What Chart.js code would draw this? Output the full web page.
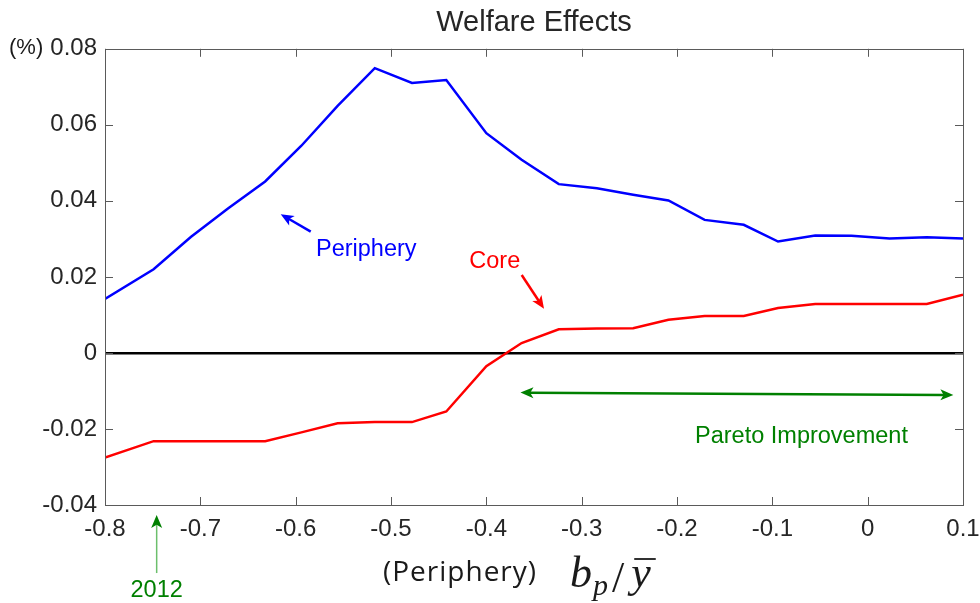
<!DOCTYPE html>
<html>
<head>
<meta charset="utf-8">
<script src="https://cdn.jsdelivr.net/npm/chart.js@4.4.0/dist/chart.umd.min.js"></script>
<style>
  html, body { margin: 0; padding: 0; background: #ffffff; }
  #wrap { width: 980px; height: 603px; }
</style>
</head>
<body>
<div id="wrap"><canvas id="chart"></canvas></div>
<script>
// welfare.js - welfare effects vs periphery debt ratio

// model grid (b_p / y-bar)
const bpRatio = [-0.8, -0.749, -0.71, -0.671, -0.632, -0.594, -0.556, -0.517, -0.478, -0.442,
    -0.40, -0.363, -0.324, -0.284, -0.246, -0.209, -0.171, -0.130, -0.094, -0.055,
    -0.017, 0.023, 0.062, 0.1];

// welfare effects (%)
const peripheryWelfare = [0.0142, 0.022, 0.0305, 0.038, 0.0451, 0.0545, 0.065, 0.0749, 0.071, 0.0718,
    0.0578, 0.0508, 0.0444, 0.0433, 0.0416, 0.0401, 0.035, 0.0337, 0.0293, 0.0309,
    0.0308, 0.0301, 0.0304, 0.0301];
const coreWelfare = [-0.0275, -0.0232, -0.0232, -0.0232, -0.0232, -0.0209, -0.0185, -0.0182, -0.0182, -0.0154,
    -0.0035, 0.0026, 0.0062, 0.0064, 0.0065, 0.0087, 0.0097, 0.0097, 0.0118, 0.0129,
    0.0129, 0.0129, 0.0129, 0.0153];

const xTicks = [-0.8, -0.7, -0.6, -0.5, -0.4, -0.3, -0.2, -0.1, 0, 0.1];
const yTicks = [-0.04, -0.02, 0, 0.02, 0.04, 0.06, 0.08];

// annotations, in data units
const arrowNotes = [
    { from: [-0.5842, 0.0319], to: [-0.6157, 0.0365], color: "#0000ff", width: 2.5 },
    { from: [-0.3629, 0.0205], to: [-0.3395, 0.0116], color: "#ff0000", width: 2.5 },
    { from: [-0.3642, -0.01044], to: [0.0899, -0.01105], color: "#008000", width: 2.5, both: true },
    { from: [-0.7458, -0.0579], to: [-0.7458, -0.04263], color: "#008000", shaft: "#6cbf6c", width: 1.5 }
];
const textNotes = [
    { text: "Periphery", at: [-0.5787, 0.02553], color: "#0000ff", align: "left" },
    { text: "Core", at: [-0.4179, 0.0223], color: "#ff0000", align: "left" },
    { text: "Pareto Improvement", at: [-0.1811, -0.02368], color: "#008000", align: "left" },
    { text: "2012", at: [-0.7458, -0.0641], color: "#008000", align: "center" }
];

const sans = "'Liberation Sans', Arial, sans-serif";
const tickColor = "#262626";

function toPoints(ys) {
    return bpRatio.map((x, i) => ({ x: x, y: ys[i] }));
}

function fmt(v) {
    return parseFloat(v.toFixed(2)).toString();
}

function isZero(c) {
    return c.tick && Math.abs(c.tick.value) < 1e-9;
}

// MATLAB-like filled arrow head at (x2, y2)
function arrowHead(ctx, x1, y1, x2, y2, len, half, color) {
    const ang = Math.atan2(y2 - y1, x2 - x1);
    ctx.save();
    ctx.translate(x2, y2);
    ctx.rotate(ang);
    ctx.beginPath();
    ctx.moveTo(0, 0);
    ctx.lineTo(-len, -half);
    ctx.lineTo(-len * 0.75, 0);
    ctx.lineTo(-len, half);
    ctx.closePath();
    ctx.fillStyle = color;
    ctx.fill();
    ctx.restore();
}

const framePlugin = {
    id: "frameAndNotes",
    afterDatasetsDraw(chart) {
        const { ctx, chartArea: a, scales } = chart;
        const xs = scales.x, ys = scales.y;
        ctx.save();

        // box and inner ticks
        ctx.strokeStyle = "#5a5a5a";
        ctx.lineWidth = 1;
        ctx.strokeRect(Math.round(a.left) + 0.5, Math.round(a.top) + 0.5,
            Math.round(a.right - a.left), Math.round(a.bottom - a.top));
        ctx.beginPath();
        xTicks.forEach(v => {
            const px = Math.round(xs.getPixelForValue(v)) + 0.5;
            ctx.moveTo(px, a.bottom); ctx.lineTo(px, a.bottom - 8);
            ctx.moveTo(px, a.top); ctx.lineTo(px, a.top + 8);
        });
        yTicks.forEach(v => {
            const py = Math.round(ys.getPixelForValue(v)) + 0.5;
            ctx.moveTo(a.left, py); ctx.lineTo(a.left + 8, py);
            ctx.moveTo(a.right, py); ctx.lineTo(a.right - 8, py);
        });
        ctx.stroke();

        // arrows
        arrowNotes.forEach(n => {
            const x1 = xs.getPixelForValue(n.from[0]), y1 = ys.getPixelForValue(n.from[1]);
            const x2 = xs.getPixelForValue(n.to[0]), y2 = ys.getPixelForValue(n.to[1]);
            const len = 13, half = 5.5;
            const d = Math.hypot(x2 - x1, y2 - y1);
            const ux = (x2 - x1) / d, uy = (y2 - y1) / d;
            ctx.strokeStyle = n.shaft || n.color;
            ctx.lineWidth = n.width;
            ctx.beginPath();
            const sx = n.both ? x1 + ux * len * 0.7 : x1;
            const sy = n.both ? y1 + uy * len * 0.7 : y1;
            ctx.moveTo(sx, sy);
            ctx.lineTo(x2 - ux * len * 0.7, y2 - uy * len * 0.7);
            ctx.stroke();
            arrowHead(ctx, x1, y1, x2, y2, len, half, n.color);
            if (n.both) arrowHead(ctx, x2, y2, x1, y1, len, half, n.color);
        });

        // text notes
        ctx.font = "23.5px " + sans;
        ctx.textBaseline = "alphabetic";
        textNotes.forEach(n => {
            ctx.fillStyle = n.color;
            ctx.textAlign = n.align;
            ctx.fillText(n.text, xs.getPixelForValue(n.at[0]), ys.getPixelForValue(n.at[1]));
        });

        // y unit
        ctx.fillStyle = "#1a1a1a";
        ctx.font = "22px " + sans;
        ctx.textAlign = "left";
        ctx.textBaseline = "middle";
        ctx.fillText("(%)", 9, ys.getPixelForValue(0.08) - 1);

        // x axis title: (Periphery)  b_p / y-bar
        const base = a.bottom + 76;
        ctx.textBaseline = "alphabetic";
        ctx.fillStyle = "#1a1a1a";
        ctx.font = "28px 'Open Sans', Lato, sans-serif";
        ctx.letterSpacing = "1px";
        ctx.fillText("(Periphery)", a.left + 278, base);
        ctx.letterSpacing = "0px";

        const serif = "'Liberation Serif', 'Times New Roman', serif";
        let mx = a.left + 465;
        const mb = a.bottom + 82;
        ctx.font = "italic 44px " + serif;
        ctx.fillText("b", mx, mb);
        mx += ctx.measureText("b").width + 1;
        ctx.font = "italic 30px " + serif;
        ctx.fillText("p", mx, mb + 8);
        mx += ctx.measureText("p").width + 4;
        ctx.font = "44px " + serif;
        ctx.fillText("/", mx, mb + 5);
        mx += ctx.measureText("/").width + 7;
        ctx.font = "italic 44px " + serif;
        ctx.fillText("y", mx, mb);
        const yw = ctx.measureText("y").width;
        ctx.strokeStyle = "#1a1a1a";
        ctx.lineWidth = 1.8;
        ctx.beginPath();
        ctx.moveTo(mx + 3, mb - 28);
        ctx.lineTo(mx + yw + 5, mb - 28);
        ctx.stroke();

        ctx.restore();
    }
};

const chart = new Chart(document.getElementById("chart").getContext("2d"), {
    type: "line",
    data: {
        datasets: [
            {
                label: "Periphery",
                data: toPoints(peripheryWelfare),
                borderColor: "#0000ff",
                borderWidth: 2.5,
                pointRadius: 0,
                tension: 0
            },
            {
                label: "Core",
                data: toPoints(coreWelfare),
                borderColor: "#ff0000",
                borderWidth: 2.5,
                pointRadius: 0,
                tension: 0
            }
        ]
    },
    options: {
        responsive: true,
        maintainAspectRatio: false,
        animation: false,
        devicePixelRatio: 1,
        layout: { padding: { left: 0, right: 17, top: 0, bottom: 0 } },
        plugins: {
            legend: { display: false },
            tooltip: { enabled: false },
            title: {
                display: true,
                fullSize: false,
                text: "Welfare Effects",
                color: "#262626",
                font: { family: sans, size: 29, weight: "normal" },
                padding: { top: 6, bottom: 8 }
            }
        },
        scales: {
            x: {
                type: "linear",
                min: -0.8,
                max: 0.1,
                afterBuildTicks: s => { s.ticks = xTicks.map(v => ({ value: v })); },
                afterFit: s => { s.height = 98; },
                grid: {
                    display: true,
                    drawOnChartArea: false,
                    drawTicks: true,
                    tickLength: 10,
                    tickColor: "rgba(0,0,0,0)",
                    color: "rgba(0,0,0,0)"
                },
                border: { display: false },
                ticks: {
                    color: tickColor,
                    padding: 0,
                    maxRotation: 0,
                    autoSkip: false,
                    font: { family: sans, size: 24 },
                    callback: v => fmt(v)
                }
            },
            y: {
                min: -0.04,
                max: 0.08,
                afterBuildTicks: s => { s.ticks = yTicks.map(v => ({ value: v })); },
                afterFit: s => { s.width = 105; },
                grid: {
                    drawTicks: false,
                    color: c => isZero(c) ? "#000000" : "rgba(0,0,0,0)",
                    lineWidth: c => isZero(c) ? 2.5 : 0
                },
                border: { display: false },
                ticks: {
                    color: tickColor,
                    padding: 8,
                    autoSkip: false,
                    font: { family: sans, size: 24 },
                    callback: v => fmt(v)
                }
            }
        }
    },
    plugins: [framePlugin]
});
</script>
</body>
</html>
